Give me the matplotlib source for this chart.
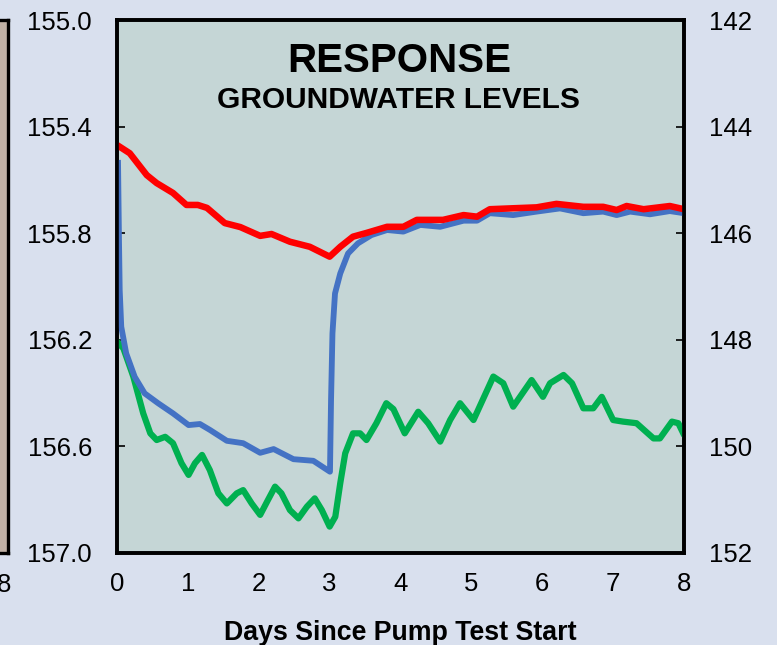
import matplotlib
matplotlib.use("Agg")
import matplotlib.pyplot as plt

plt.rcParams['font.family'] = ['Liberation Sans', 'DejaVu Sans']

# ---- data (days, level) ----
red_days = [0.0, 0.18, 0.42, 0.56, 0.79, 0.98, 1.14, 1.27, 1.52, 1.74, 2.02, 2.18, 2.44,
            2.72, 3.00, 3.15, 3.33, 3.52, 3.81, 4.04, 4.23, 4.60, 4.89, 5.08, 5.26, 5.54,
            5.92, 6.20, 6.58, 6.86, 7.05, 7.19, 7.43, 7.80, 8.0]
red_vals = [155.469, 155.500, 155.582, 155.612, 155.649, 155.694, 155.694, 155.705, 155.762,
            155.777, 155.810, 155.803, 155.832, 155.851, 155.888, 155.851, 155.813, 155.799,
            155.776, 155.776, 155.750, 155.750, 155.732, 155.738, 155.710, 155.707, 155.703,
            155.690, 155.701, 155.701, 155.713, 155.698, 155.710, 155.698, 155.710]

blue_days = [0.014, 0.028, 0.038, 0.06, 0.13, 0.25, 0.39, 0.58, 0.79, 1.01, 1.17, 1.31, 1.55,
             1.78, 2.02, 2.21, 2.49, 2.77, 3.005, 3.02, 3.04, 3.076, 3.15, 3.26, 3.40, 3.59,
             3.81, 4.04, 4.28, 4.56, 4.89, 5.08, 5.26, 5.59, 5.92, 6.25, 6.58, 6.86, 7.05,
             7.24, 7.52, 7.80, 8.0]
blue_vals = [155.525, 155.826, 156.013, 156.151, 156.251, 156.339, 156.401, 156.438, 156.476,
             156.520, 156.516, 156.538, 156.579, 156.588, 156.624, 156.610, 156.648, 156.654,
             156.695, 156.426, 156.176, 156.026, 155.951, 155.876, 155.838, 155.807, 155.788,
             155.794, 155.769, 155.776, 155.753, 155.753, 155.725, 155.732, 155.719, 155.707,
             155.725, 155.719, 155.732, 155.719, 155.729, 155.717, 155.725]

green_days = [0.0, 0.09, 0.23, 0.37, 0.47, 0.56, 0.68, 0.79, 0.91, 1.01, 1.10, 1.20, 1.31, 1.43,
              1.55, 1.69, 1.78, 1.90, 2.02, 2.13, 2.23, 2.32, 2.44, 2.56, 2.68, 2.79, 2.89,
              3.00, 3.08, 3.15, 3.22, 3.33, 3.43, 3.52, 3.66, 3.80, 3.90, 4.06, 4.25, 4.39,
              4.56, 4.70, 4.84, 5.03, 5.31, 5.45, 5.59, 5.85, 6.01, 6.11, 6.30, 6.42, 6.58,
              6.72, 6.84, 7.00, 7.14, 7.33, 7.57, 7.66, 7.83, 7.92, 8.0]
green_vals = [156.207, 156.232, 156.338, 156.476, 156.551, 156.576, 156.564, 156.588, 156.663,
              156.707, 156.663, 156.632, 156.689, 156.776, 156.814, 156.776, 156.764, 156.814,
              156.857, 156.801, 156.751, 156.776, 156.839, 156.870, 156.826, 156.795, 156.839,
              156.901, 156.864, 156.738, 156.626, 156.551, 156.551, 156.576, 156.513, 156.438,
              156.460, 156.551, 156.470, 156.513, 156.582, 156.501, 156.438, 156.501, 156.338,
              156.363, 156.451, 156.351, 156.414, 156.363, 156.332, 156.363, 156.457, 156.457,
              156.414, 156.501, 156.507, 156.513, 156.570, 156.570, 156.507, 156.513, 156.557]

left_ticks = [155.0, 155.4, 155.8, 156.2, 156.6, 157.0]
right_ticks = [142, 144, 146, 148, 150, 152]
x_ticks = [0, 1, 2, 3, 4, 5, 6, 7, 8]

BG = '#d9e0ee'
PLOT_BG = '#c5d6d6'

W, H = 777, 645
fig = plt.figure(figsize=(W / 100, H / 100), dpi=100, facecolor=BG)

# partial neighbouring panel at far left
axl = fig.add_axes([-0.2, 1 - 553 / H, 0.2 + 7.5 / W, (553 - 20) / H])
axl.set_facecolor('#c0b1a6')
axl.set_xticks([])
axl.set_yticks([])
for s in axl.spines.values():
    s.set_linewidth(2.4)
    s.set_color('black')
fig.text(4 / W, 1 - 585 / H, '8', fontsize=18.5, ha='center', va='center')

ax = fig.add_axes([117 / W, 1 - 553 / H, (684 - 117) / W, (553 - 20) / H])
ax.set_facecolor(PLOT_BG)
ax.plot(green_days, green_vals, color='#00b050', lw=4.5, solid_joinstyle='round',
        solid_capstyle='round', zorder=3)
ax.plot(blue_days, blue_vals, color='#4472c4', lw=4.2, solid_joinstyle='round',
        solid_capstyle='butt', zorder=4)
ax.plot(red_days, red_vals, color='#ff0000', lw=4.7, solid_joinstyle='round',
        solid_capstyle='butt', zorder=5)

ax.set_xlim(0, 8)
ax.set_ylim(157.0, 155.0)
ax.set_xticks(x_ticks)
ax.set_xticklabels([str(v) for v in x_ticks])
ax.set_yticks(left_ticks)
ax.set_yticklabels([f'{v:.1f}' for v in left_ticks])
ax.tick_params(axis='x', length=0, pad=14, labelsize=18.5)
ax.tick_params(axis='y', direction='in', length=6, width=1.2, pad=18, labelsize=18.5)
for s in ax.spines.values():
    s.set_linewidth(2.6)
    s.set_color('black')

ax2 = ax.twinx()
ax2.set_ylim(152, 142)
ax2.set_yticks(right_ticks)
ax2.set_yticklabels([str(v) for v in right_ticks])
ax2.tick_params(axis='y', direction='in', length=6, width=1.2, pad=18, labelsize=18.5)
for s in ax2.spines.values():
    s.set_linewidth(2.6)

ax.text(0.497, 0.9024, 'RESPONSE', transform=ax.transAxes, ha='center', va='baseline',
        fontsize=29, fontweight='bold', zorder=6)
ax.text(0.497, 0.8349, 'GROUNDWATER LEVELS', transform=ax.transAxes, ha='center',
        va='baseline', fontsize=21.5, fontweight='bold', zorder=6)

fig.text(400 / W, 1 - 640 / H, 'Days Since Pump Test Start', ha='center', va='baseline',
         fontsize=19.3, fontweight='bold')

fig.savefig('out.png', dpi=100, facecolor=BG)
